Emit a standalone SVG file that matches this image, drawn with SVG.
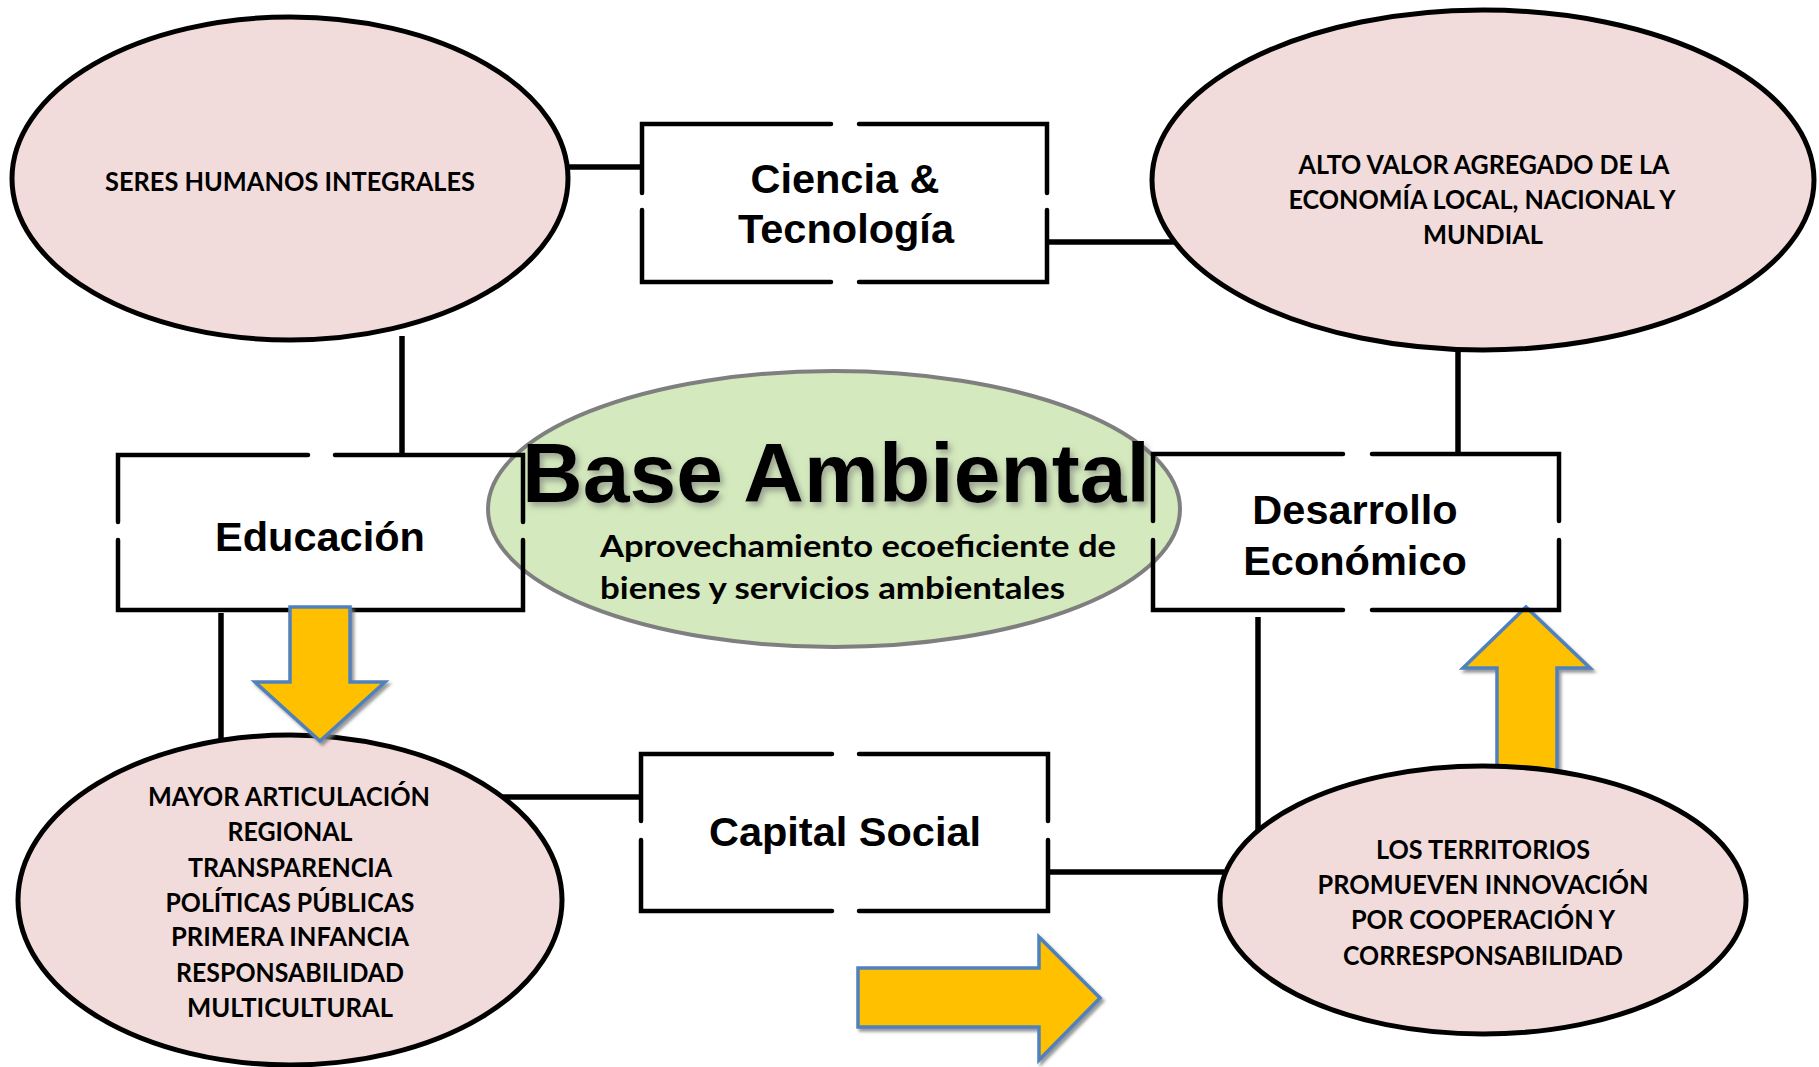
<svg xmlns="http://www.w3.org/2000/svg" width="1819" height="1067" viewBox="0 0 1819 1067">
<defs>
<style>
.pink{fill:#F2DCDB;stroke:#000;stroke-width:5}
.box{fill:none;stroke:#000;stroke-width:4.5;stroke-linecap:round;stroke-linejoin:miter}
.conn{stroke:#000;stroke-width:5.5;fill:none}
.arrow{fill:#FFC000;stroke:#4F81BD;stroke-width:3.5;stroke-linejoin:miter}
.cal{font-family:Lato,"Open Sans","Liberation Sans",sans-serif;font-weight:bold;fill:#000;font-size:27.5px;text-anchor:middle}
.ari{font-family:"Liberation Sans",Arial,sans-serif;font-weight:bold;fill:#000;font-size:41.5px;text-anchor:middle}
</style>
<filter id="sh" x="-10%" y="-10%" width="130%" height="140%">
<feDropShadow dx="2.5" dy="3" stdDeviation="1.5" flood-color="#7f7f7f" flood-opacity="0.8"/>
</filter>
<filter id="tsh" x="-5%" y="-10%" width="115%" height="140%">
<feDropShadow dx="3" dy="4" stdDeviation="3" flood-color="#6f6f6f" flood-opacity="0.6"/>
</filter>
</defs>
<rect width="1819" height="1067" fill="#fff"/>

<g id="connectors">
<line class="conn" x1="565" y1="167" x2="642" y2="167"/>
<line class="conn" x1="1047" y1="242" x2="1180" y2="242"/>
<line class="conn" x1="402" y1="336" x2="402" y2="455"/>
<line class="conn" x1="1458" y1="348" x2="1458" y2="454"/>
<line class="conn" x1="221" y1="613" x2="221" y2="742"/>
<line class="conn" x1="498" y1="797" x2="641" y2="797"/>
<line class="conn" x1="1048" y1="872" x2="1224" y2="872"/>
<line class="conn" x1="1258" y1="617" x2="1258" y2="834"/>
</g>

<g id="base-ambiental-shape">
<ellipse cx="834" cy="509" rx="346" ry="138" fill="#D4E9BD" stroke="#7F7F7F" stroke-width="4"/>
</g>

<g id="seres">
<ellipse class="pink" cx="290" cy="178.5" rx="278" ry="161.5"/>
<text class="cal" x="290" y="191" textLength="370" lengthAdjust="spacingAndGlyphs">SERES HUMANOS INTEGRALES</text>
</g>

<g id="alto-valor">
<ellipse class="pink" cx="1483" cy="180" rx="331" ry="170"/>
<text class="cal" x="1484" y="174" textLength="371" lengthAdjust="spacingAndGlyphs">ALTO VALOR AGREGADO DE LA</text>
<text class="cal" x="1482" y="209" textLength="387" lengthAdjust="spacingAndGlyphs">ECONOMÍA LOCAL, NACIONAL Y</text>
<text class="cal" x="1483" y="244" textLength="120" lengthAdjust="spacingAndGlyphs">MUNDIAL</text>
</g>

<g id="up-arrow">
<polygon class="arrow" filter="url(#sh)" points="1526,607 1590,668 1557,668 1557,800 1497,800 1497,668 1463,668"/>
</g>

<g id="mayor">
<ellipse class="pink" cx="290" cy="900" rx="272" ry="165"/>
<text class="cal" x="289" y="806" textLength="282" lengthAdjust="spacingAndGlyphs">MAYOR ARTICULACIÓN</text>
<text class="cal" x="290" y="841" textLength="125" lengthAdjust="spacingAndGlyphs">REGIONAL</text>
<text class="cal" x="290" y="877" textLength="204" lengthAdjust="spacingAndGlyphs">TRANSPARENCIA</text>
<text class="cal" x="290" y="912" textLength="249" lengthAdjust="spacingAndGlyphs">POLÍTICAS PÚBLICAS</text>
<text class="cal" x="290" y="946" textLength="238" lengthAdjust="spacingAndGlyphs">PRIMERA INFANCIA</text>
<text class="cal" x="290" y="982" textLength="228" lengthAdjust="spacingAndGlyphs">RESPONSABILIDAD</text>
<text class="cal" x="290" y="1017" textLength="206" lengthAdjust="spacingAndGlyphs">MULTICULTURAL</text>
</g>

<g id="territorios">
<ellipse class="pink" cx="1483" cy="900" rx="263" ry="134"/>
<text class="cal" x="1483" y="859" textLength="214" lengthAdjust="spacingAndGlyphs">LOS TERRITORIOS</text>
<text class="cal" x="1483" y="894" textLength="331" lengthAdjust="spacingAndGlyphs">PROMUEVEN INNOVACIÓN</text>
<text class="cal" x="1483" y="929" textLength="264" lengthAdjust="spacingAndGlyphs">POR COOPERACIÓN Y</text>
<text class="cal" x="1483" y="965" textLength="280" lengthAdjust="spacingAndGlyphs">CORRESPONSABILIDAD</text>
</g>

<g id="ciencia">
<path class="box" d="M831,124 H642 V193 M859,124 H1047 V193 M642,210 V282 H831 M1047,210 V282 H859"/>
<text class="ari" x="845" y="193">Ciencia &amp;</text>
<text class="ari" x="846" y="243">Tecnología</text>
</g>

<g id="educacion">
<path class="box" d="M308,455 H118 V522 M335,455 H523 V522 M118,540 V610 H308 M523,540 V610 H335"/>
<text class="ari" x="320" y="551">Educación</text>
</g>

<g id="desarrollo">
<path class="box" d="M1343,454 H1153 V521 M1372,454 H1559 V521 M1153,540 V610 H1343 M1559,540 V610 H1372"/>
<text class="ari" x="1355" y="524">Desarrollo</text>
<text class="ari" x="1355" y="575">Económico</text>
</g>

<g id="capital">
<path class="box" d="M832,754 H641 V821 M859,754 H1048 V821 M641,840 V911 H832 M1048,840 V911 H859"/>
<text class="ari" x="845" y="846">Capital Social</text>
</g>

<g id="down-arrow">
<polygon class="arrow" filter="url(#sh)" points="290,607 350,607 350,682 385,682 320,741 255,682 290,682"/>
</g>

<g id="right-arrow">
<polygon class="arrow" filter="url(#sh)" points="858,968 1039,968 1039,937 1100,998 1039,1060 1039,1027 858,1027"/>
</g>

<g id="base-ambiental">
<text x="836" y="502" font-family="Liberation Sans, Arial, sans-serif" font-weight="bold" font-size="84" text-anchor="middle" textLength="628" lengthAdjust="spacingAndGlyphs" filter="url(#tsh)">Base Ambiental</text>
<text x="600" y="557" font-family="Lato, 'Open Sans', sans-serif" font-weight="bold" font-size="29.5" textLength="516" lengthAdjust="spacingAndGlyphs">Aprovechamiento ecoeficiente de</text>
<text x="600" y="599" font-family="Lato, 'Open Sans', sans-serif" font-weight="bold" font-size="29.5" textLength="465" lengthAdjust="spacingAndGlyphs">bienes y servicios ambientales</text>
</g>
</svg>
